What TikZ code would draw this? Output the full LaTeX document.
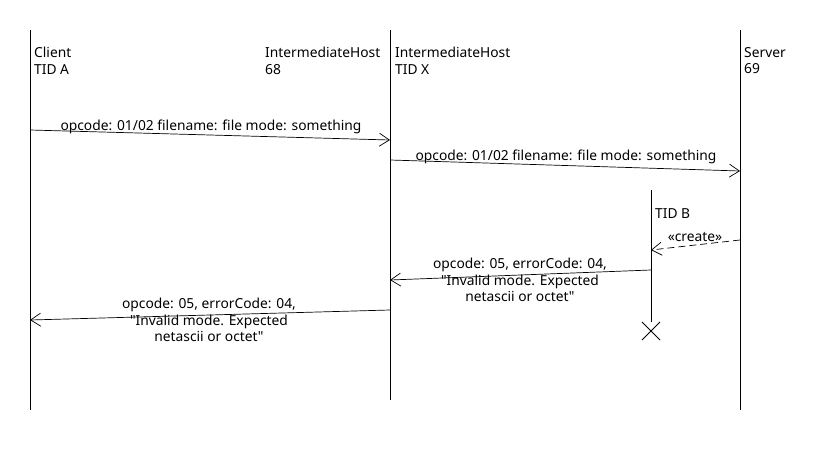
\documentclass[tikz,border=0pt]{standalone}
\usepackage{fontspec}
\setmainfont{Noto Sans}[Ligatures=TeXOff]
\usetikzlibrary{arrows.meta}

\begin{document}
\begin{tikzpicture}[x=1pt, y=-1pt,
  lifeline/.style = {draw, line width=0.8pt},
  msg/.style = {draw, line width=0.7pt, -{Straight Barb[length=10pt, width=13pt]}},
  create/.style = {msg, dashed, dash pattern=on 7pt off 4pt},
  head/.style = {align=left, anchor=north west, inner sep=0pt,
    font=\fontsize{13.8}{16.5}\selectfont},
  msglabel/.style = {align=center, inner sep=0pt,
    font=\fontsize{13.8}{16.5}\selectfont}]
  \useasboundingbox (0,0) rectangle (820,450);

  % lifelines
  \coordinate (clientTop) at (30,30);   \coordinate (clientEnd) at (30,410);
  \coordinate (hostTop) at (390,30);    \coordinate (hostEnd) at (390,400);
  \coordinate (serverTop) at (740,30);  \coordinate (serverEnd) at (740,410);
  \coordinate (tidbTop) at (651,190);   \coordinate (tidbEnd) at (651,322);
  \draw[lifeline] (clientTop) -- (clientEnd);
  \draw[lifeline] (hostTop) -- (hostEnd);
  \draw[lifeline] (serverTop) -- (serverEnd);
  \draw[lifeline] (tidbTop) -- (tidbEnd);

  % heads
  \node[head] (client) at (34,47) {Client\\TID A};
  \node[head] (host68) at (265,47) {IntermediateHost\\68};
  \node[head] (hostX) at (395,47) {IntermediateHost\\TID X};
  \node[head] (server) at (744,47) {Server\\69};
  \node[head] (tidb) at (655,208) {TID B};

  % destroy mark
  \coordinate (kill) at (651,331);
  \draw[lifeline] ([shift={(-9,-9)}]kill) -- ([shift={(9,9)}]kill)
    ([shift={(-9,9)}]kill) -- ([shift={(9,-9)}]kill);

  % request Client -> IntermediateHost
  \coordinate (m1s) at (30,130);  \coordinate (m1e) at (390,140);
  \draw[msg] (m1s) -- (m1e);
  \node[msglabel, anchor=south] (m1) at (211,134) {opcode: 01/02 filename: file mode: something};

  % request IntermediateHost -> Server
  \coordinate (m2s) at (390,160); \coordinate (m2e) at (740,171);
  \draw[msg] (m2s) -- (m2e);
  \node[msglabel, anchor=south] (m2) at (566,164) {opcode: 01/02 filename: file mode: something};

  % Server creates TID B
  \coordinate (c1s) at (740,240); \coordinate (c1e) at (651,250);
  \draw[create] (c1s) -- (c1e);
  \node[msglabel, anchor=south] (c1) at (695,242) {«create»};

  % error TID B -> IntermediateHost
  \coordinate (m3s) at (651,270); \coordinate (m3e) at (390,280);
  \draw[msg] (m3s) -- (m3e);
  \node[msglabel, anchor=north] (m3) at (520,258) {opcode: 05, errorCode: 04,\\"Invalid mode. Expected\\netascii or octet"};

  % error IntermediateHost -> Client
  \coordinate (m4s) at (390,310); \coordinate (m4e) at (30,320);
  \draw[msg] (m4s) -- (m4e);
  \node[msglabel, anchor=north] (m4) at (209,298) {opcode: 05, errorCode: 04,\\"Invalid mode. Expected\\netascii or octet"};
\end{tikzpicture}
\end{document}
